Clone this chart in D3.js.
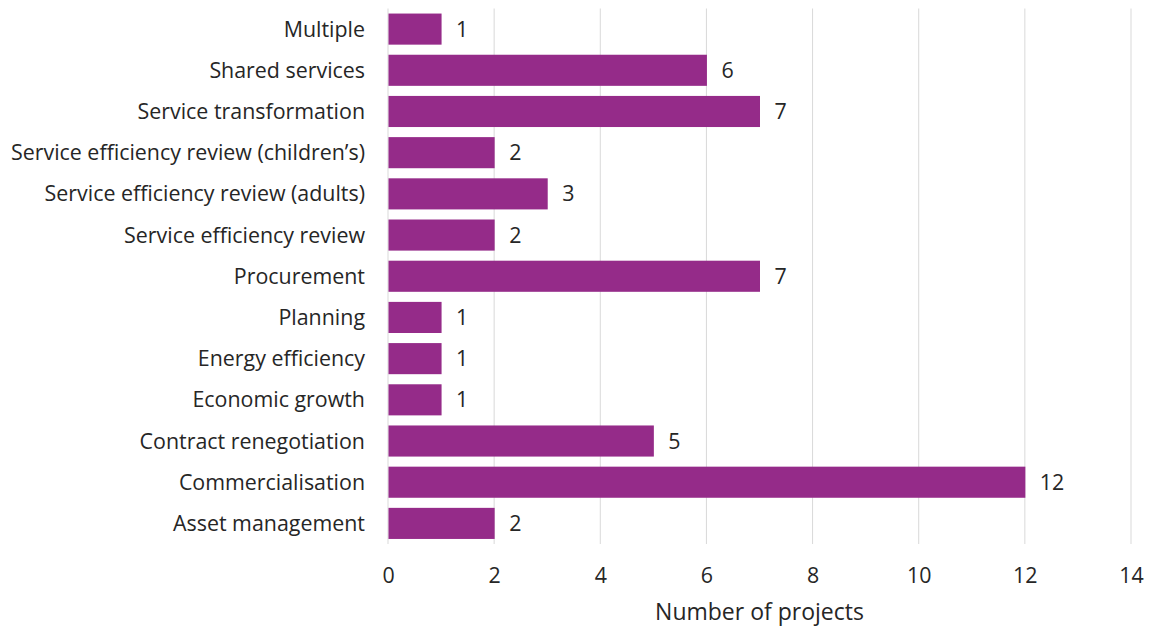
<!DOCTYPE html>
<html><head><meta charset="utf-8">
<script src="https://cdn.jsdelivr.net/npm/d3@7"></script>
<style>body{margin:0;background:#fff}svg{display:block}text{font-family:"Open Sans",sans-serif;fill:#262626}</style>
</head><body><svg id="c" width="1155" height="629"></svg>
<script>
const categories = ["Multiple","Shared services","Service transformation","Service efficiency review (children\u2019s)","Service efficiency review (adults)","Service efficiency review","Procurement","Planning","Energy efficiency","Economic growth","Contract renegotiation","Commercialisation","Asset management"];
const values = [1,6,7,2,3,2,7,1,1,1,5,12,2];
const xTicks = [0,2,4,6,8,10,12,14];
const xTitle = "Number of projects";

const FS = 21.4;
const svg = d3.select("#c");
const x = d3.scaleLinear().domain([0,14]).range([388,1131]);
const y = d3.scaleBand().domain(categories).range([8.5,544]).paddingInner(0.245).paddingOuter(0.1225);

svg.append("g").selectAll("line").data(xTicks.slice(1)).join("line")
  .attr("x1",d=>x(d)).attr("x2",d=>x(d)).attr("y1",8.5).attr("y2",544)
  .attr("stroke","#d9d9d9").attr("stroke-width",1);
svg.append("line").attr("x1",x(0)).attr("x2",x(0)).attr("y1",8.5).attr("y2",544).attr("stroke","#d9d9d9");

svg.append("g").selectAll("rect").data(values).join("rect")
  .attr("x",x(0)+0.5).attr("y",(d,i)=>y(categories[i]))
  .attr("width",d=>x(d)-x(0)).attr("height",y.bandwidth())
  .attr("fill","#952B89");

svg.append("g").selectAll("text").data(values).join("text")
  .attr("x",d=>x(d)+15).attr("y",(d,i)=>y(categories[i])+y.bandwidth()/2)
  .attr("dy","0.35em").attr("font-size",FS).text(d=>d);

svg.append("g").selectAll("text").data(categories).join("text")
  .attr("x",365).attr("y",d=>y(d)+y.bandwidth()/2).attr("dy","0.35em")
  .attr("text-anchor","end").attr("font-size",FS).text(d=>d);

const xAxis = d3.axisBottom(x).tickValues(xTicks).tickSize(0).tickPadding(0);
const ga = svg.append("g").attr("transform","translate(0,575)").call(xAxis);
ga.select(".domain").remove();
ga.selectAll("text").attr("font-size",FS).attr("dy","0.35em").style("font-family","'Open Sans',sans-serif").attr("fill","#262626");

svg.append("text").attr("x",759.5).attr("y",612).attr("dy","0.35em").attr("text-anchor","middle").attr("font-size",23).text(xTitle);
</script></body></html>
